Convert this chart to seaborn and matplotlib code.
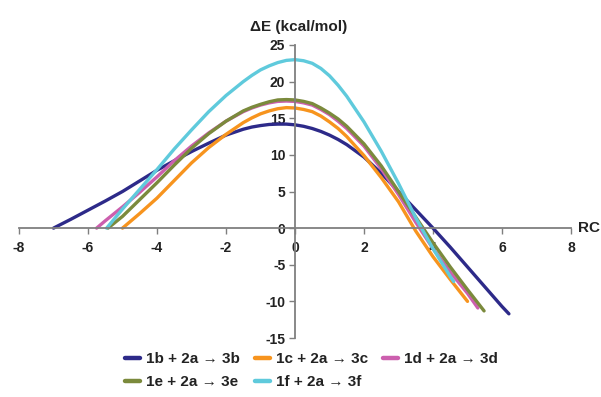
import seaborn as sns
import matplotlib.pyplot as plt

# values
x_1b = [-7, -6.5, -6, -5.5, -5, -4.5, -4, -3.5, -3, -2.5, -2, -1.5, -1.25, -1, -0.75, -0.5,
        -0.25, 0, 0.25, 0.5, 0.75, 1, 1.25, 1.5, 2, 2.5, 3, 3.5, 4, 4.5, 5, 5.5, 6, 6.2]
y_1b = [0, 1.2, 2.45, 3.7, 5.0, 6.45, 7.9, 9.2, 10.45, 11.6, 12.7, 13.5, 13.8, 14.0, 14.15, 14.2,
        14.2, 14.1, 13.9, 13.6, 13.2, 12.7, 12.1, 11.4, 9.7, 7.5, 5.0, 2.5, 0.0, -2.6, -5.3,
        -8.0, -10.7, -11.7]

x_1c = [-5, -4.5, -4, -3.5, -3, -2.5, -2, -1.5, -1.25, -1, -0.75, -0.5, -0.25,
        0, 0.25, 0.5, 0.75, 1, 1.25, 1.5, 2, 2.5, 3, 3.5, 4, 4.5, 5]
y_1c = [0, 2.0, 4.1, 6.5, 8.9, 11.0, 12.8, 14.4, 15.05, 15.6, 16.0, 16.3, 16.45,
        16.4, 16.2, 15.9, 15.3, 14.5, 13.6, 12.5, 9.9, 6.9, 3.6, -0.4, -3.9, -7.0, -10.0]

x_1d = [-5.75, -5.5, -5, -4.5, -4, -3.5, -3, -2.5, -2, -1.5, -1.25, -1, -0.75, -0.5, -0.25,
        0, 0.25, 0.5, 0.75, 1, 1.25, 1.5, 2, 2.5, 3, 3.5, 4, 4.5, 5, 5.3]
y_1d = [0, 1.0, 2.9, 4.9, 7.0, 9.2, 11.2, 13.0, 14.6, 15.9, 16.4, 16.8, 17.1, 17.3, 17.35,
        17.3, 17.1, 16.8, 16.2, 15.5, 14.6, 13.6, 11.2, 8.1, 4.6, 0.8, -2.8, -6.0, -8.9, -10.9]

x_1e = [-5.42, -5, -4.5, -4, -3.5, -3, -2.5, -2, -1.5, -1.25, -1, -0.75, -0.5, -0.25,
        0, 0.25, 0.5, 0.75, 1, 1.25, 1.5, 2, 2.5, 3, 3.5, 4, 4.5, 5, 5.48]
y_1e = [0, 1.6, 3.9, 6.2, 8.6, 10.9, 12.9, 14.6, 16.0, 16.5, 16.9, 17.25, 17.5, 17.55,
        17.5, 17.3, 17.0, 16.4, 15.7, 14.9, 13.9, 11.5, 8.5, 5.0, 1.5, -2.0, -5.3, -8.4, -11.3]

x_1f = [-5.46, -5, -4.5, -4, -3.5, -3, -2.5, -2, -1.5, -1.25, -1, -0.75, -0.5, -0.25,
        0, 0.25, 0.5, 0.75, 1, 1.25, 1.5, 2, 2.5, 3, 3.5, 4, 4.5, 4.6]
y_1f = [0, 2.6, 5.3, 8.0, 10.8, 13.4, 15.9, 18.1, 20.0, 20.85, 21.6, 22.15, 22.6, 22.9,
        23.0, 22.85, 22.5, 21.8, 20.8, 19.5, 18.0, 14.5, 10.5, 6.1, 1.4, -2.8, -6.6, -7.3]

labels = ['1b + 2a \u2192 3b', '1c + 2a \u2192 3c', '1d + 2a \u2192 3d',
          '1e + 2a \u2192 3e', '1f + 2a \u2192 3f']
colors = ['#2d2a89', '#f7941e', '#cc5fae', '#7b8a3c', '#5fcadc']
xs_all = [x_1b, x_1c, x_1d, x_1e, x_1f]
ys_all = [y_1b, y_1c, y_1d, y_1e, y_1f]

sns.set_style('white')
plt.rcParams['font.family'] = ['Liberation Sans', 'DejaVu Sans']
plt.rcParams['font.weight'] = 'bold'
plt.rcParams['axes.unicode_minus'] = False

fig = plt.figure(figsize=(6.01, 3.97), dpi=100)
ax = fig.add_axes([19 / 601, 1 - 338 / 397, 552 / 601, 293 / 397])

for xs, ys, lab, col in zip(xs_all, ys_all, labels, colors):
    sns.lineplot(x=xs, y=ys, ax=ax, color=col, lw=2.4, label=lab, sort=False)

ax.set_xlim(-8, 8)
ax.set_ylim(-15, 25)
ax.set_xticks(range(-8, 9, 2))
ax.set_yticks(range(-15, 26, 5))

for s in ['left', 'bottom']:
    ax.spines[s].set_position(('data', 0))
    ax.spines[s].set_color('#7f7f7f')
    ax.spines[s].set_linewidth(1.3)
for s in ['top', 'right']:
    ax.spines[s].set_visible(False)

ax.tick_params(axis='x', direction='out', length=4, color='#7f7f7f', width=1,
               labelsize=10, pad=5, bottom=True)
ax.tick_params(axis='y', direction='out', length=4, color='#7f7f7f', width=1,
               labelsize=10, pad=3, left=True)
for t in ax.get_xticklabels() + ax.get_yticklabels():
    t.set_fontweight('bold')
    t.set_color('#222222')

ax.text(8.2, 0, 'RC', ha='left', va='center', fontsize=11, fontweight='bold',
        color='#222222', clip_on=False)
ax.text(0.1, 27.5, '\u0394E (kcal/mol)', ha='center', va='center', fontsize=11,
        fontweight='bold', color='#222222', clip_on=False)

handles, labs = ax.get_legend_handles_labels()
ax.get_legend().remove()
order = [0, 3, 1, 4, 2]
leg = fig.legend([handles[i] for i in order], [labs[i] for i in order],
                 loc='center', bbox_to_anchor=(0.518, 0.066), ncol=3,
                 frameon=False, fontsize=11, handlelength=1.0,
                 handletextpad=0.35, columnspacing=1.0, labelspacing=0.6,
                 borderpad=0)
for line in leg.get_lines():
    line.set_linewidth(3.2)
for t in leg.get_texts():
    t.set_fontweight('bold')
    t.set_color('#222222')

fig.savefig('out.png', dpi=100)
